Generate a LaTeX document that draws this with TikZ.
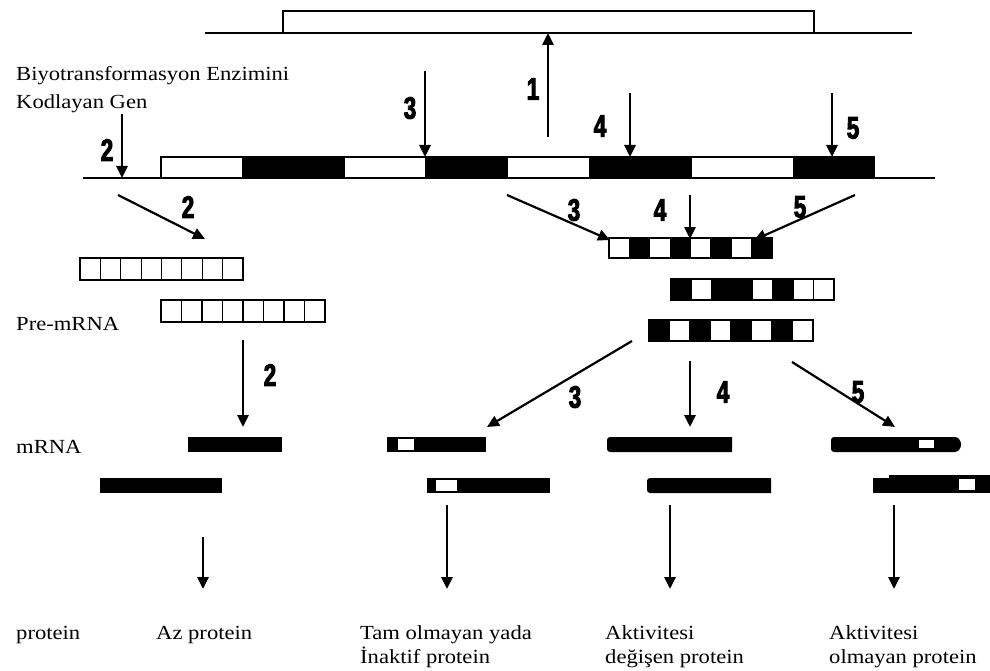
\documentclass[tikz,border=0pt]{standalone}
\usepackage{fontspec}
\setmainfont{Liberation Serif}[FakeStretch=1.13]
\newfontfamily\numfont{Liberation Sans}[FakeStretch=0.72,FakeBold=3]
\usetikzlibrary{arrows.meta}
\begin{document}
\begin{tikzpicture}[x=1pt,y=-1pt,
  ln/.style={line width=1.5pt},
  arr/.style={line width=2.8pt,-{Triangle[width=11pt,length=12pt]}},
  darr/.style={line width=2.2pt,-{Triangle[width=11pt,length=12pt]}},
  num/.style={font=\numfont\bfseries\fontsize{31}{31}\selectfont, inner sep=0pt},
  lbl/.style={font=\fontsize{20}{24}\selectfont, inner sep=0pt, anchor=base west},
  cell/.style={draw=black, line width=1.2pt}]
\useasboundingbox (0,0) rectangle (990,671);

% top line and box
\draw[ln] (205,33) -- (912,33);
\draw[ln] (283,33) -- (283,11) -- (814,11) -- (814,33);
\coordinate (top1) at (548,33);

% gene
\draw[ln] (83,178) -- (935,178);
\draw[ln] (161,157) rectangle (874,178);
\foreach \a/\b in {242/345,425/508,589/692,793/874}
  \fill (\a,157) rectangle (\b,178);
\coordinate (g2) at (122,178);
\coordinate (g3) at (425,157);
\coordinate (g4) at (630,157);
\coordinate (g5) at (832,157);

\coordinate (s1) at (548,137);
\coordinate (s2) at (122,114);
\coordinate (s3) at (425,71);
\coordinate (s4) at (630,93);
\coordinate (s5) at (832,93);
\draw[arr] (s1) -- (top1);
\draw[arr] (s2) -- (g2);
\draw[arr] (s3) -- (g3);
\draw[arr] (s4) -- (g4);
\draw[arr] (s5) -- (g5);

\node[lbl] (title1) at (16,81) {Biyotransformasyon Enzimini};
\node[lbl] (title2) at (16,109) {Kodlayan Gen};
\node[num] (n1) at (533,89) {1};
\node[num] (n2a) at (107,150) {2};
\node[num] (n3a) at (410,108) {3};
\node[num] (n4a) at (600,126) {4};
\node[num] (n5a) at (853,128) {5};

% left branch
\coordinate (d2s) at (118,195);
\coordinate (d2e) at (205,239);
\draw[darr] (d2s) -- (d2e);
\node[num] (n2b) at (188,207) {2};
\foreach \i in {0,...,7}
  \draw[cell] ({80+\i*20.375},258) rectangle ({80+(\i+1)*20.375},280);
\foreach \i in {0,...,7}
  \draw[cell] ({161+\i*20.5},300) rectangle ({161+(\i+1)*20.5},322);
\node[lbl] (pre) at (16,330) {Pre-mRNA};
\coordinate (p2s) at (243,340);
\coordinate (p2e) at (243,427);
\draw[arr] (p2s) -- (p2e);
\node[num] (n2c) at (270,375) {2};
\node[lbl] (mrna) at (16,453) {mRNA};

% right branch
\coordinate (r3s) at (507,195);
\coordinate (r3e) at (610,240);
\coordinate (r4s) at (690,195);
\coordinate (r4e) at (690,239);
\coordinate (r5s) at (855,195);
\coordinate (r5e) at (754,240);
\draw[darr] (r3s) -- (r3e);
\draw[arr] (r4s) -- (r4e);
\draw[darr] (r5s) -- (r5e);
\node[num] (n3b) at (574,210) {3};
\node[num] (n4b) at (660,210) {4};
\node[num] (n5b) at (800,207) {5};

\foreach \i/\c in {0/white,1/black,2/white,3/black,4/white,5/black,6/white,7/black}
  \filldraw[cell, fill=\c] ({609+\i*20.375},238) rectangle ({609+(\i+1)*20.375},258);
\foreach \i/\c in {0/black,1/white,2/black,3/black,4/white,5/black,6/white,7/white}
  \filldraw[cell, fill=\c] ({671+\i*20.375},279) rectangle ({671+(\i+1)*20.375},300);
\fill (671+40.75,280) rectangle (671+81.5,299.5);
\foreach \i/\c in {0/black,1/white,2/black,3/white,4/black,5/white,6/black,7/white}
  \filldraw[cell, fill=\c] ({649+\i*20.5},320) rectangle ({649+(\i+1)*20.5},341);

\coordinate (b3s) at (632,341);
\coordinate (b3e) at (487,427);
\coordinate (b4s) at (690,361);
\coordinate (b4e) at (690,427);
\coordinate (b5s) at (792,362);
\coordinate (b5e) at (895,427);
\draw[darr] (b3s) -- (b3e);
\draw[arr] (b4s) -- (b4e);
\draw[darr] (b5s) -- (b5e);
\node[num] (n3c) at (575,397) {3};
\node[num] (n4c) at (723,392) {4};
\node[num] (n5c) at (858,392) {5};

% mRNA bars
\fill (188,437) rectangle (282,452);
\fill (100,478) rectangle (222,493);
\fill (387,437) rectangle (486,452);
\fill[white] (398,439) rectangle (414,450);
\fill (427,478) rectangle (550,493);
\fill[white] (436,480) rectangle (457,491);
\fill (732,437) -- (732,452) [rounded corners=3pt] -- (607,452) -- (607,437) [sharp corners] -- cycle;
\fill (771,478) -- (771,493) [rounded corners=3pt] -- (647,493) -- (647,478) [sharp corners] -- cycle;
\fill[rounded corners=3pt] (831,437) -- (831,452) -- (958,452) -- (962,444.5) -- (958,437) -- cycle;
\fill[white] (919,440) rectangle (934,448);
\fill (873,478) rectangle (990,493);
\fill (889,475) rectangle (990,480);
\fill[white] (959,479) rectangle (975,490);

% protein arrows
\coordinate (pa1) at (203,537);
\coordinate (pa2) at (447,505);
\coordinate (pa3) at (670,505);
\coordinate (pa4) at (894,505);
\coordinate (pe1) at (203,589);
\coordinate (pe2) at (447,589);
\coordinate (pe3) at (670,589);
\coordinate (pe4) at (894,589);
\foreach \k in {1,2,3,4} \draw[arr] (pa\k) -- (pe\k);

\node[lbl] (t0) at (16,639) {protein};
\node[lbl] (t1) at (156,639) {Az protein};
\node[lbl] (t2a) at (360,639) {Tam olmayan yada};
\node[lbl] (t2b) at (360,663) {İnaktif protein};
\node[lbl] (t3a) at (605,639) {Aktivitesi};
\node[lbl] (t3b) at (605,663) {değişen protein};
\node[lbl] (t4a) at (829,639) {Aktivitesi};
\node[lbl] (t4b) at (829,663) {olmayan protein};
\end{tikzpicture}
\end{document}
